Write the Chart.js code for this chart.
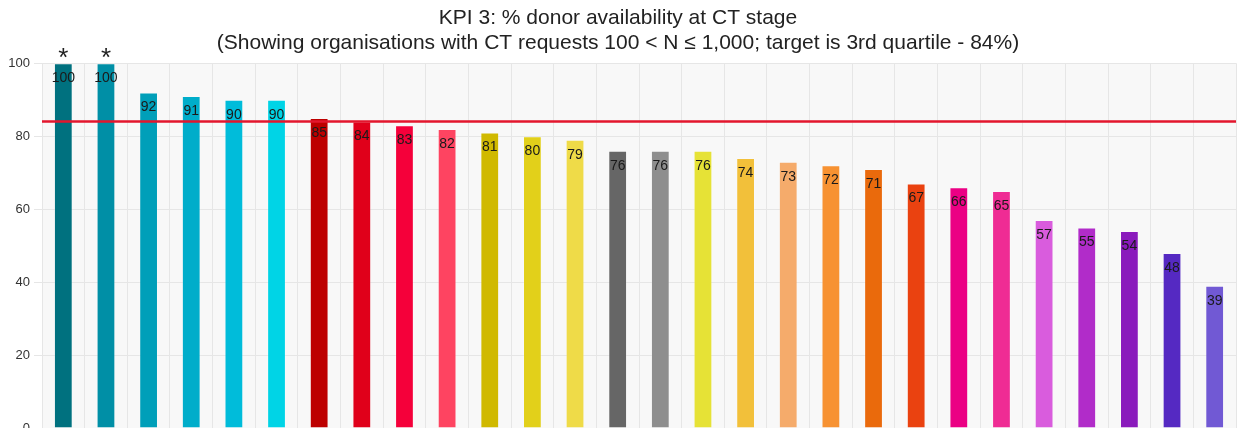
<!DOCTYPE html>
<html>
<head>
<meta charset="utf-8">
<script src="https://cdn.jsdelivr.net/npm/chart.js@4/dist/chart.umd.min.js"></script>
<style>
  html, body { margin: 0; padding: 0; background: #fff; }
  #wrap { width: 1238px; height: 428px; }
</style>
</head>
<body>
<div id="wrap"><canvas id="chart"></canvas></div>
<script>
// organisations (names are not shown on the chart)
const organisations = ['Org 1','Org 2','Org 3','Org 4','Org 5','Org 6','Org 7','Org 8','Org 9','Org 10',
  'Org 11','Org 12','Org 13','Org 14','Org 15','Org 16','Org 17','Org 18','Org 19','Org 20',
  'Org 21','Org 22','Org 23','Org 24','Org 25','Org 26','Org 27','Org 28'];
const availability = [100,100,92,91,90,90,85,84,83,82,81,80,79,76,76,76,74,73,72,71,67,66,65,57,55,54,48,39];
const barColours = ['#00717f','#008fa6','#009fb9','#00adca','#00bcda','#00d4e6','#bd0000','#e0001a','#f5003a','#fe4461',
  '#d0b900','#e2d01a','#efdb48','#666666','#8e8e8e','#e6e236','#f2c03a','#f5ab6b','#f79232','#ea6a0c',
  '#ea4210','#eb0084','#ef2c94','#d95cdd','#b12cc9','#8a1abc','#5529c2','#7159d4'];
const starred = [true,true];
const target = 84;
const yTicks = [0,20,40,60,80,100];

const FONT = '"Liberation Sans", Arial, Helvetica, sans-serif';

const extras = {
  id: 'extras',
  beforeDraw(chart) {
    const a = chart.chartArea, ctx = chart.ctx;
    ctx.save();
    ctx.fillStyle = '#f8f8f8';
    ctx.fillRect(a.left, a.top, a.right - a.left, a.bottom - a.top);
    ctx.restore();
  },
  afterDatasetsDraw(chart) {
    const ctx = chart.ctx;
    const a = chart.chartArea;
    const y = chart.scales.y;
    const meta = chart.getDatasetMeta(0);
    ctx.save();
    // target line
    const ty = y.getPixelForValue(target);
    ctx.strokeStyle = '#e3162d';
    ctx.lineWidth = 2.5;
    ctx.beginPath();
    ctx.moveTo(a.left, ty);
    ctx.lineTo(a.right, ty);
    ctx.stroke();
    // value labels
    ctx.font = '14px ' + FONT;
    ctx.fillStyle = '#1a1a1a';
    ctx.textAlign = 'center';
    ctx.textBaseline = 'middle';
    meta.data.forEach((bar, i) => {
      ctx.fillText(String(availability[i]), bar.x, bar.y + 15);
    });
    // asterisks
    ctx.font = '26px ' + FONT;
    ctx.fillStyle = '#222';
    ctx.textBaseline = 'alphabetic';
    meta.data.forEach((bar, i) => {
      if (starred[i]) ctx.fillText('*', bar.x, bar.y + 3);
    });
    ctx.restore();
  }
};

new Chart(document.getElementById('chart'), {
  type: 'bar',
  data: {
    labels: organisations,
    datasets: [{
      data: availability,
      backgroundColor: barColours,
      borderColor: 'rgba(255,255,255,0.2)',
      borderWidth: 1,
      barPercentage: 0.44,
      categoryPercentage: 1
    }]
  },
  options: {
    responsive: true,
    maintainAspectRatio: false,
    animation: false,
    layout: { padding: { left: 0, right: 2, top: 0, bottom: 0 } },
    plugins: {
      legend: { display: false },
      tooltip: { enabled: false },
      title: {
        display: true,
        text: ['KPI 3: % donor availability at CT stage',
               '(Showing organisations with CT requests 100 < N \u2264 1,000; target is 3rd quartile - 84%)'],
        color: '#222',
        font: { family: FONT, size: 21, weight: 'normal', lineHeight: 1.22 },
        padding: { top: 5, bottom: 7 }
      }
    },
    scales: {
      x: {
        grid: { color: '#e6e6e6', drawTicks: false, offset: true },
        border: { display: false },
        ticks: { display: false },
        afterFit(scale) { scale.height = 0; }
      },
      y: {
        min: 0,
        max: 100,
        afterBuildTicks(scale) { scale.ticks = yTicks.map(v => ({ value: v })); },
        afterFit(scale) { scale.width = 42; scale.paddingBottom = 0; },
        grid: { color: '#e6e6e6', tickLength: 8 },
        border: { display: false },
        ticks: { color: '#333', padding: 4, font: { family: FONT, size: 13 } }
      }
    }
  },
  plugins: [extras]
});
</script>
</body>
</html>
